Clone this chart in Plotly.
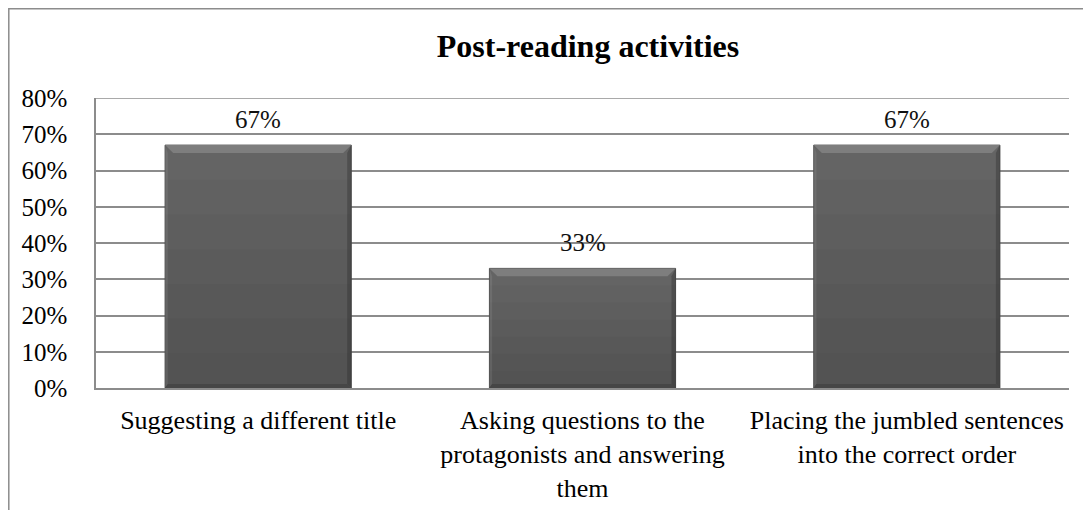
import plotly.graph_objects as go

categories = ["Suggesting a different title",
              "Asking questions to the<br>protagonists and answering<br>them",
              "Placing the jumbled sentences<br>into the correct order"]
values = [0.67, 0.33, 0.67]
labels = ["67%", "33%", "67%"]
tick_vals = [0, 0.1, 0.2, 0.3, 0.4, 0.5, 0.6, 0.7, 0.8]
tick_text = ["0%", "10%", "20%", "30%", "40%", "50%", "60%", "70%", "80%"]

FONT = "Liberation Serif"
BAR_W = 0.574
W, H = 1091, 510
ML, MT, MR, MB = 88, 90, 30, 130
PW, PH = W - ML - MR, H - MT - MB

fig = go.Figure()
fig.add_trace(go.Bar(
    x=list(range(len(categories))), y=values,
    marker=dict(color="#646464", line=dict(color="#4c4c4c", width=1)),
    width=BAR_W, hoverinfo="skip",
))

# bevel / shading effect on each bar, derived from the data values
BEV_Y = 0.022          # bevel height in data units
BEV_X = 0.025          # bevel width in category units
for i, v in enumerate(values):
    x0, x1 = i - BAR_W / 2, i + BAR_W / 2
    # soft vertical darkening toward the bottom
    for k in range(1, 7):
        fig.add_shape(type="rect", xref="x", yref="y",
                      x0=x0, x1=x1, y0=0, y1=v * k / 7,
                      fillcolor="rgba(0,0,0,0.022)", line=dict(width=0),
                      layer="above")
    # top bevel (lighter trapezoid)
    fig.add_shape(type="path", xref="x", yref="y",
                  path=f"M {x0},{v} L {x1},{v} L {x1 - BEV_X},{v - BEV_Y} "
                       f"L {x0 + BEV_X},{v - BEV_Y} Z",
                  fillcolor="#7e7e7e", line=dict(width=0), layer="above")
    # right edge (darker)
    fig.add_shape(type="path", xref="x", yref="y",
                  path=f"M {x1},{v} L {x1},0 L {x1 - BEV_X / 2},{BEV_Y / 2} "
                       f"L {x1 - BEV_X / 2},{v - BEV_Y} Z",
                  fillcolor="rgba(40,40,40,0.35)", line=dict(width=0), layer="above")
    # left edge (slightly lighter)
    fig.add_shape(type="path", xref="x", yref="y",
                  path=f"M {x0},{v} L {x0},0 L {x0 + BEV_X / 3},{BEV_Y / 2} "
                       f"L {x0 + BEV_X / 3},{v - BEV_Y} Z",
                  fillcolor="rgba(255,255,255,0.08)", line=dict(width=0), layer="above")
    # bottom edge (darker)
    fig.add_shape(type="path", xref="x", yref="y",
                  path=f"M {x0},0 L {x1},0 L {x1 - BEV_X / 2},{BEV_Y / 2} "
                       f"L {x0 + BEV_X / 3},{BEV_Y / 2} Z",
                  fillcolor="#464646", line=dict(width=0), layer="above")
    fig.add_annotation(x=i, y=v, text=labels[i], showarrow=False,
                       yanchor="middle", yshift=26,
                       font=dict(family=FONT, size=25, color="#111"))

fig.update_layout(
    width=W, height=H,
    margin=dict(l=ML, r=MR, t=MT, b=MB),
    paper_bgcolor="white", plot_bgcolor="white",
    showlegend=False,
    title=dict(text="<b>Post-reading activities</b>", x=580 / W, xanchor="center",
               xref="container",
               y=0.925, yanchor="middle", yref="container",
               font=dict(family=FONT, size=32, color="black")),
    font=dict(family=FONT, size=25, color="black"),
)
fig.update_yaxes(range=[0, 0.8], tickvals=tick_vals, ticktext=tick_text,
                 showgrid=True, gridcolor="#8c8c8c", gridwidth=1.5,
                 showline=True, linecolor="#8c8c8c", linewidth=1.5,
                 ticks="", ticklabelstandoff=22, zeroline=False, automargin=False,
                 tickfont=dict(family=FONT, size=25, color="black"))
fig.update_xaxes(range=[-0.5, 2.5], tickvals=list(range(len(categories))),
                 ticktext=categories,
                 showline=True, linecolor="#8c8c8c", linewidth=1.5,
                 ticks="", ticklabelstandoff=8, automargin=False,
                 tickfont=dict(family=FONT, size=26, color="black"))

# top gridline at the 80% edge
fig.add_shape(type="line", xref="paper", yref="y", x0=0, x1=1, y0=0.8, y1=0.8,
              line=dict(color="#8c8c8c", width=1.5))

# outer chart border
fig.add_shape(type="rect", xref="paper", yref="paper",
              x0=(0.8 - ML) / PW, x1=(W + 10 - ML) / PW,
              y0=-(MB + 10) / PH, y1=1 + (MT - 0.8) / PH,
              line=dict(color="#8c8c8c", width=1.5), fillcolor="rgba(0,0,0,0)")

fig.write_html("out.html")
